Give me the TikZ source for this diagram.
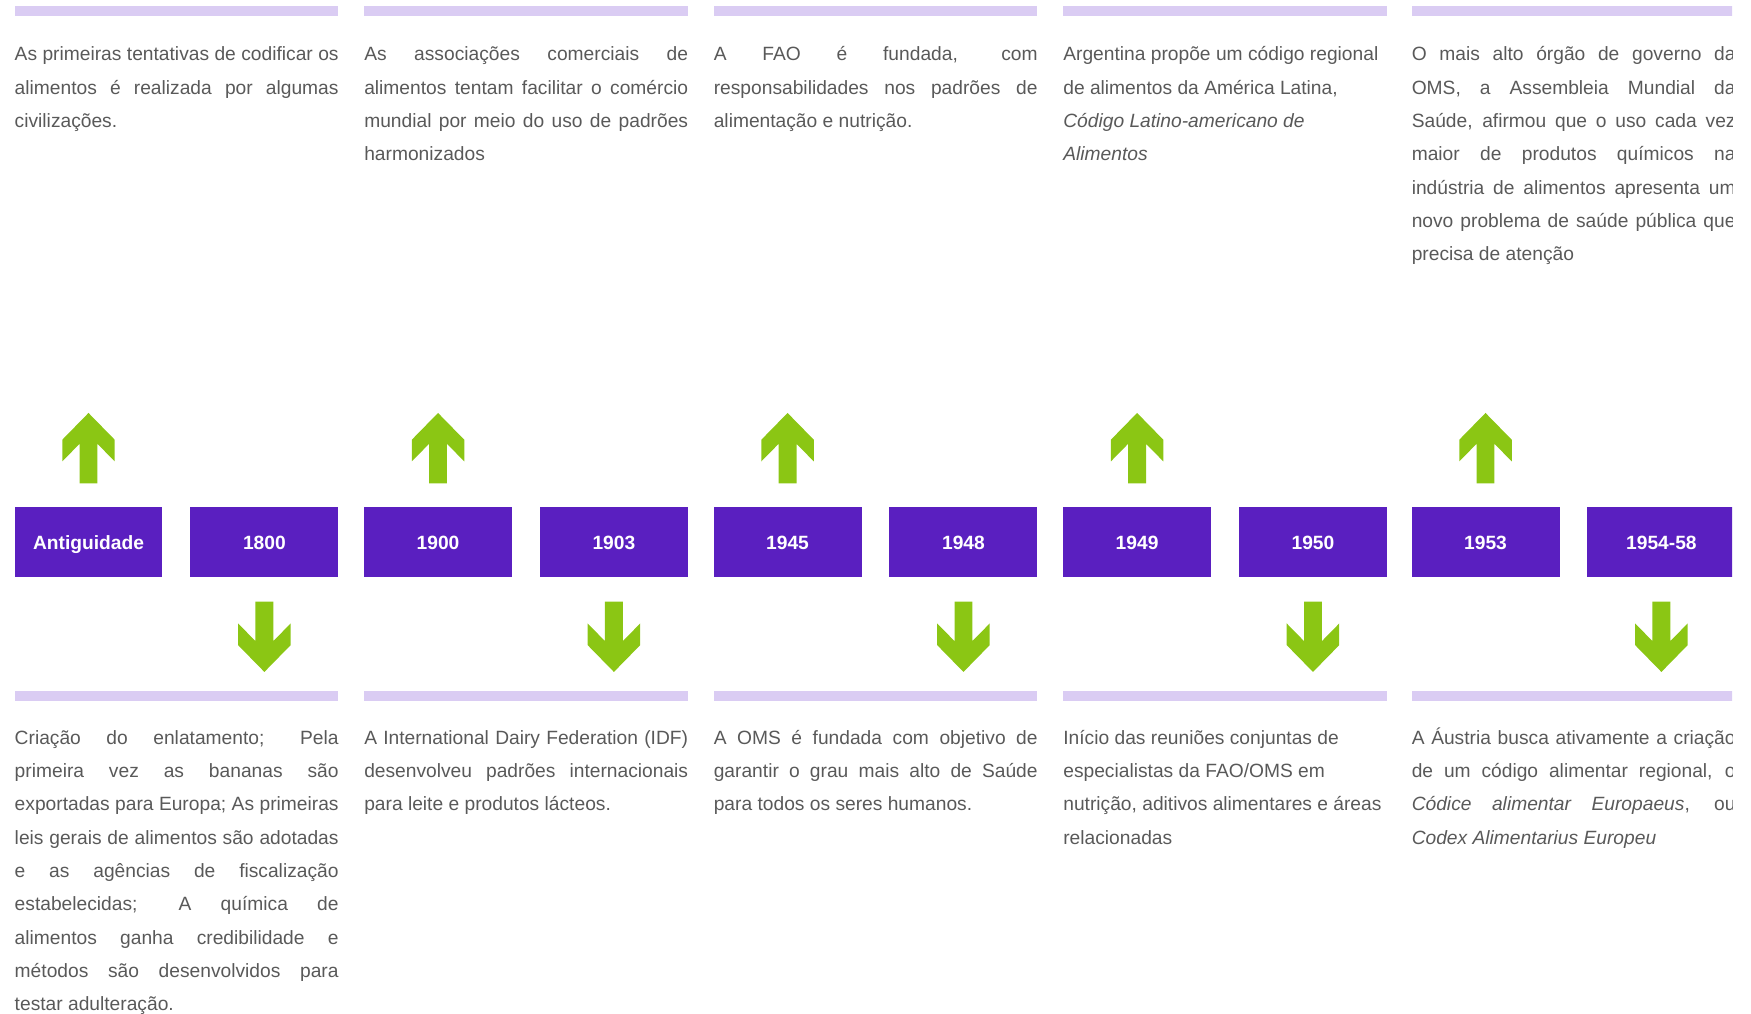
\documentclass[tikz,border=0pt]{standalone}
\usepackage{fontspec}
\setmainfont{Liberation Sans}
\definecolor{boxpurple}{HTML}{5A1FC0}
\definecolor{arrowgreen}{HTML}{8BC614}
\definecolor{barlilac}{HTML}{DACCF3}
\definecolor{textgray}{HTML}{595959}
\newcommand{\jl}[1]{\makebox[290pt][s]{#1}}

\begin{document}
\begin{tikzpicture}[x=1pt, y=-1pt]

\tikzset{mybox/.style={fill=boxpurple, text=white, font=\bfseries\fontsize{17.2}{20}\selectfont, minimum width=132.5pt, minimum height=63pt, inner sep=0pt, text height=12.3pt, text depth=0pt}}
% base west = baseline of the last line
\tikzset{mytext/.style={anchor=base west, inner sep=0pt, align=left, text=textgray, font=\fontsize{17.2}{29.85}\selectfont}}
\tikzset{mybar/.style={fill=barlilac}}
\tikzset{myarrow/.pic={\fill[arrowgreen] (0,0) -- (23.5,24) -- (23.5,43.4) -- (8,27.6) -- (8,63) -- (-8,63) -- (-8,27.6) -- (-23.5,43.4) -- (-23.5,24) -- cycle;}}

\useasboundingbox (0,0) rectangle (1568,908);
\begin{scope}
\clip (0,0) rectangle (1551,908);

% bars
\fill[mybar] (13,5.5) rectangle (303,14.5);
\fill[mybar] (326,5.5) rectangle (616,14.5);
\fill[mybar] (639,5.5) rectangle (929,14.5);
\fill[mybar] (952,5.5) rectangle (1242,14.5);
\fill[mybar] (1264,5.5) rectangle (1554,14.5);

\fill[mybar] (13,619) rectangle (303,627.5);
\fill[mybar] (326,619) rectangle (616,627.5);
\fill[mybar] (639,619) rectangle (929,627.5);
\fill[mybar] (952,619) rectangle (1242,627.5);
\fill[mybar] (1264,619) rectangle (1554,627.5);

% boxes
\node[mybox] (box1) at (79.25,485.5) {Antiguidade};
\node[mybox] (box2) at (236.75,485.5) {1800};
\node[mybox] (box3) at (392.25,485.5) {1900};
\node[mybox] (box4) at (549.75,485.5) {1903};
\node[mybox] (box5) at (705.25,485.5) {1945};
\node[mybox] (box6) at (862.75,485.5) {1948};
\node[mybox] (box7) at (1018.25,485.5) {1949};
\node[mybox] (box8) at (1175.75,485.5) {1950};
\node[mybox] (box9) at (1330.25,485.5) {1953};
\node[mybox] (box10) at (1487.75,485.5) {1954-58};

% arrows
\pic at ([yshift=84pt]box1.north) {myarrow};
\pic at ([yshift=84pt]box3.north) {myarrow};
\pic at ([yshift=84pt]box5.north) {myarrow};
\pic at ([yshift=84pt]box7.north) {myarrow};
\pic at ([yshift=84pt]box9.north) {myarrow};

\pic[yscale=-1] at ([yshift=-84.5pt]box2.south) {myarrow};
\pic[yscale=-1] at ([yshift=-84.5pt]box4.south) {myarrow};
\pic[yscale=-1] at ([yshift=-84.5pt]box6.south) {myarrow};
\pic[yscale=-1] at ([yshift=-84.5pt]box8.south) {myarrow};
\pic[yscale=-1] at ([yshift=-84.5pt]box10.south) {myarrow};

% texts above
\node[mytext] (top1) at (13,114.3) {\jl{As primeiras tentativas de codificar os}\\
  \jl{alimentos é realizada por algumas}\\
  civilizações.};
\node[mytext] (top2) at (326,144.15) {\jl{As associações comerciais de}\\
  \jl{alimentos tentam facilitar o comércio}\\
  \jl{mundial por meio do uso de padrões}\\
  harmonizados};
\node[mytext] (top3) at (639,114.3) {\jl{A FAO é fundada, com}\\
  \jl{responsabilidades nos padrões de}\\
  alimentação e nutrição.};
\node[mytext] (top4) at (952,144.15) {Argentina propõe um código regional\\
  de alimentos da América Latina,\\
  \textit{Código Latino-americano de}\\
  \textit{Alimentos}};
\node[mytext] (top5) at (1264,233.7) {\jl{O mais alto órgão de governo da}\\
  \jl{OMS, a Assembleia Mundial da}\\
  \jl{Saúde, afirmou que o uso cada vez}\\
  \jl{maior de produtos químicos na}\\
  \jl{indústria de alimentos apresenta um}\\
  \jl{novo problema de saúde pública que}\\
  precisa de atenção};

% texts below
\node[mytext] (bot1) at (13,905.3) {\jl{Criação do enlatamento; Pela}\\
  \jl{primeira vez as bananas são}\\
  \jl{exportadas para Europa; As primeiras}\\
  \jl{leis gerais de alimentos são adotadas}\\
  \jl{e as agências de fiscalização}\\
  \jl{estabelecidas; A química de}\\
  \jl{alimentos ganha credibilidade e}\\
  \jl{métodos são desenvolvidos para}\\
  testar adulteração.};
\node[mytext] (bot2) at (326,726.2) {\jl{A International Dairy Federation (IDF)}\\
  \jl{desenvolveu padrões internacionais}\\
  para leite e produtos lácteos.};
\node[mytext] (bot3) at (639,726.2) {\jl{A OMS é fundada com objetivo de}\\
  \jl{garantir o grau mais alto de Saúde}\\
  para todos os seres humanos.};
\node[mytext] (bot4) at (952,756.05) {Início das reuniões conjuntas de\\
  especialistas da FAO/OMS em\\
  nutrição, aditivos alimentares e áreas\\
  relacionadas};
\node[mytext] (bot5) at (1264,756.05) {\jl{A Áustria busca ativamente a criação}\\
  \jl{de um código alimentar regional, o}\\
  \jl{\textit{Códice alimentar Europaeus}, ou}\\
  \textit{Codex Alimentarius Europeu}};

\end{scope}
\end{tikzpicture}
\end{document}
